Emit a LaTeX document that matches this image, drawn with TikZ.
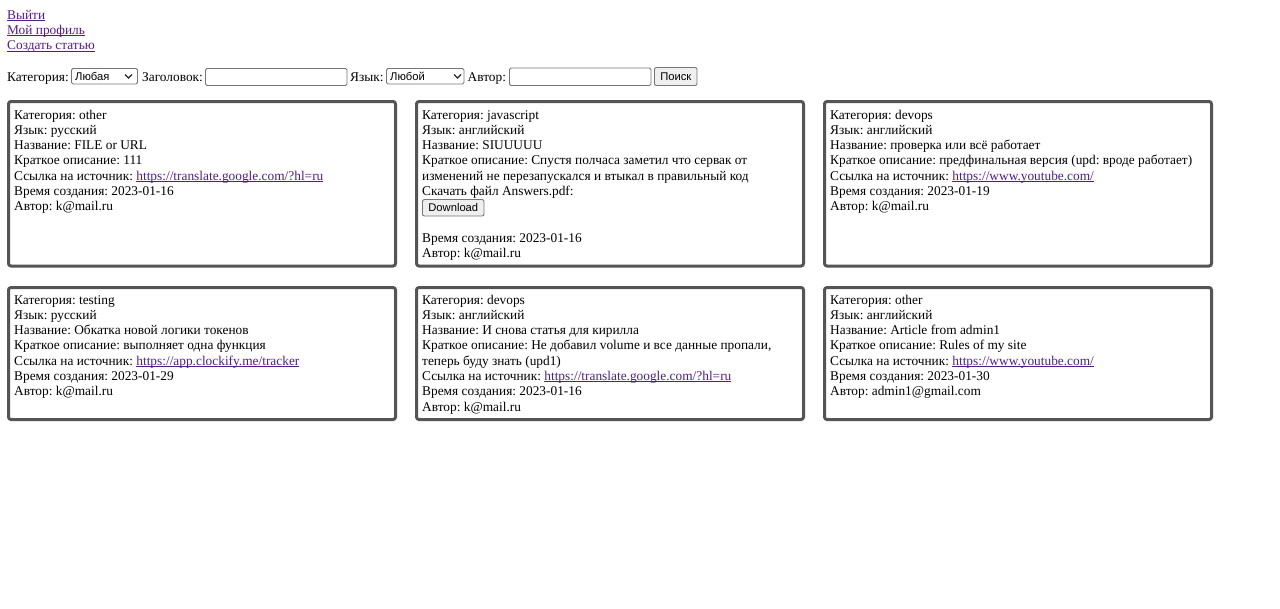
\documentclass[tikz,border=0pt]{standalone}
\usepackage{fontspec}
\setmainfont{Liberation Serif}
\newfontfamily\uifont{Liberation Sans}
\definecolor{linkc}{HTML}{551A8B}
\definecolor{cardc}{HTML}{555555}
\definecolor{ctlb}{HTML}{767676}
\definecolor{btnf}{HTML}{EFEFEF}
\frenchspacing
\newcommand\lnk[1]{\setbox0\hbox{\color{linkc}#1}\rlap{\color{linkc}\rule[-1.8pt]{\wd0}{0.9pt}}\box0}
\tikzset{
  txt/.style={anchor=base west, inner sep=0pt, font=\fontsize{13.35}{15.3}\selectfont},
  ui/.style={anchor=base west, inner sep=0pt, font=\uifont\fontsize{11.2}{13}\selectfont},
  cardbox/.style={draw=cardc, line width=3pt, rounded corners=2.5pt, fill=white},
  ctl/.style={draw=ctlb, line width=0.9pt, rounded corners=1.5pt, fill=white},
  btn/.style={draw=ctlb, line width=0.9pt, rounded corners=2pt, fill=btnf},
  chev/.style={draw=black!85, line width=1.3pt},
}
\newcommand\cardlines[4]{%
  \foreach \t [count=\i from 0] in {#4}
    \node[txt] (#1-\i) at ({#2},{#3+\i*15.3}) {\t};
}
\begin{document}
\begin{tikzpicture}[x=1pt,y=-1pt]
\useasboundingbox[fill=white] (0,0) rectangle (1280,608);

% header links
\node[txt] (out) at (7,19) {\lnk{Выйти}};
\node[txt] (prof) at (7,34.3) {\lnk{Мой профиль}};
\node[txt] (create) at (7,49.6) {\lnk{Создать статью}};

% search form
\node[txt] (lcat) at (7,81) {Категория:};
\draw[ctl] (71.5,68.5) rectangle (137.5,84);
\node[ui] (scat) at (75,80) {Любая};
\draw[chev] (125,74.5) -- (128.5,78) -- (132,74.5);
\node[txt] (ltitle) at (142,81) {Заголовок:};
\draw[ctl] (205.5,68.5) rectangle (347,85.5);
\node[txt] (llang) at (350,81) {Язык:};
\draw[ctl] (386.5,68.5) rectangle (464,84);
\node[ui] (slang) at (390,80) {Любой};
\draw[chev] (454,74.5) -- (457.5,78) -- (461,74.5);
\node[txt] (lauth) at (467.5,81) {Автор:};
\draw[ctl] (509.5,68) rectangle (651,85.5);
\draw[btn] (654.5,67.5) rectangle (697,85.5);
\node[ui, anchor=base] (search) at (675.8,80.5) {Поиск};

% cards row 1
\draw[cardbox] (8.5,101.5) rectangle (395.5,266);
\draw[cardbox] (416.5,101.5) rectangle (803.5,266);
\draw[cardbox] (824.5,101.5) rectangle (1211.5,266);
% cards row 2
\draw[cardbox] (8.5,287.5) rectangle (395.5,419.5);
\draw[cardbox] (416.5,287.5) rectangle (803.5,419.5);
\draw[cardbox] (824.5,287.5) rectangle (1211.5,419.5);

\cardlines{a}{14}{119}{{Категория: other},{Язык: русский},{Название: FILE or URL},{Краткое описание: 111},{Ссылка на источник: \lnk{https://translate.google.com/?hl=ru}},{Время создания: 2023-01-16},{Автор: k@mail.ru}}

\cardlines{b}{422}{119}{{Категория: javascript},{Язык: английский},{Название: SIUUUUU},{Краткое описание: Спустя полчаса заметил что сервак от},{изменений не перезапускался и втыкал в правильный код},{Скачать файл Answers.pdf:}}
\draw[btn] (422.5,199.5) rectangle (484,216);
\node[ui, anchor=base] (dl) at (453.3,211) {Download};
\node[txt] (b-time) at (422,242) {Время создания: 2023-01-16};
\node[txt] (b-auth) at (422,257.3) {Автор: k@mail.ru};

\cardlines{c}{830}{119}{{Категория: devops},{Язык: английский},{Название: проверка или всё работает},{Краткое описание: предфинальная версия (upd: вроде работает)},{Ссылка на источник: \lnk{https://www.youtube.com/}},{Время создания: 2023-01-19},{Автор: k@mail.ru}}

\cardlines{d}{14}{304}{{Категория: testing},{Язык: русский},{Название: Обкатка новой логики токенов},{Краткое описание: выполняет одна функция},{Ссылка на источник: \lnk{https://app.clockify.me/tracker}},{Время создания: 2023-01-29},{Автор: k@mail.ru}}

\cardlines{e}{422}{304}{{Категория: devops},{Язык: английский},{Название: И снова статья для кирилла},{Краткое описание: Не добавил volume и все данные пропали,},{теперь буду знать (upd1)},{Ссылка на источник: \lnk{https://translate.google.com/?hl=ru}},{Время создания: 2023-01-16},{Автор: k@mail.ru}}

\cardlines{f}{830}{304}{{Категория: other},{Язык: английский},{Название: Article from admin1},{Краткое описание: Rules of my site},{Ссылка на источник: \lnk{https://www.youtube.com/}},{Время создания: 2023-01-30},{Автор: admin1@gmail.com}}
\end{tikzpicture}
\end{document}
